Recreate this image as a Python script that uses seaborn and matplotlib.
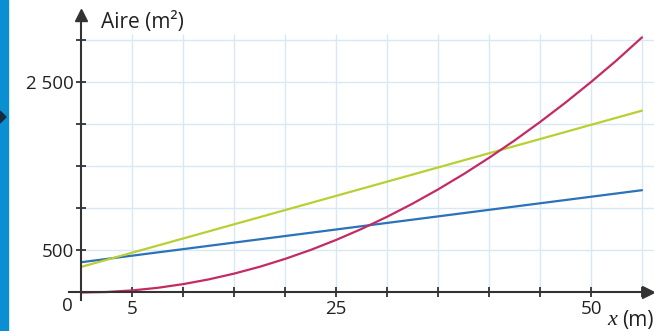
import matplotlib
matplotlib.use("Agg")
import matplotlib.pyplot as plt
import seaborn as sns
import pandas as pd
from matplotlib.patches import Rectangle, Polygon

# --- values ---
x_lin = [0, 55]
blue_vals = [360, 1215]
green_vals = [305, 2160]

x_par = [0, 2.5, 5, 7.5, 10, 12.5, 15, 17.5, 20, 22.5, 25, 27.5, 30,
         32.5, 35, 37.5, 40, 42.5, 45, 47.5, 50, 52.5, 55]
magenta_vals = [0, 6, 25, 56, 100, 156, 225, 306, 400, 506, 625, 756, 900,
                1056, 1225, 1406, 1600, 1806, 2025, 2256, 2500, 2756, 3030]

x_ticks = [5, 10, 15, 20, 25, 30, 35, 40, 45, 50, 55]
x_ticklabels = ["5", "", "", "", "25", "", "", "", "", "50", ""]
y_ticks = [500, 1000, 1500, 2000, 2500, 3000]
y_ticklabels = ["500", "", "", "", "2 500", ""]

BLUE = "#2b72b8"
GREEN = "#b9cf32"
MAGENTA = "#c42a63"
AXIS = "#333333"
GRID = "#d8e9f3"
TXT = "#222222"

sns.set_theme(style="white")
plt.rcParams["font.family"] = ["Open Sans", "DejaVu Sans"]

fig = plt.figure(figsize=(6.54, 3.31), dpi=100)
ax = fig.add_axes([66 / 654, 27 / 331, 588 / 654, 296 / 331])
ax.set_xlim(-1.52, 56.18)
ax.set_ylim(-136.6, 3379)

# grid (drawn by hand so it stops like in the print)
ax.vlines(x_ticks, 0, 3070, color=GRID, lw=1.0, zorder=0)
ax.hlines(y_ticks, 0, 56.18, color=GRID, lw=1.0, zorder=0)

df_lin = pd.DataFrame({"x": x_lin, "blue": blue_vals, "green": green_vals})
df_par = pd.DataFrame({"x": x_par, "y": magenta_vals})
sns.lineplot(data=df_lin, x="x", y="blue", color=BLUE, lw=1.6, ax=ax, zorder=3)
sns.lineplot(data=df_lin, x="x", y="green", color=GREEN, lw=1.6, ax=ax, zorder=3)
sns.lineplot(data=df_par, x="x", y="y", color=MAGENTA, lw=1.6, ax=ax, zorder=4)
ax.set_xlabel("")
ax.set_ylabel("")

# axes through the origin
for s in ["top", "right"]:
    ax.spines[s].set_visible(False)
ax.spines["left"].set_position(("data", 0))
ax.spines["bottom"].set_position(("data", 0))
ax.spines["left"].set_bounds(-90, 3290)
ax.spines["bottom"].set_bounds(-1.2, 55.6)
for s in ["left", "bottom"]:
    ax.spines[s].set_color(AXIS)
    ax.spines[s].set_linewidth(1.5)
    ax.spines[s].set_zorder(5)
ax.plot([0], [3290], marker="^", ms=8, color=AXIS, clip_on=False, zorder=6)
ax.plot([55.6], [0], marker=">", ms=8, color=AXIS, clip_on=False, zorder=6)

ax.set_xticks(x_ticks, x_ticklabels)
ax.set_yticks(y_ticks, y_ticklabels)
ax.tick_params(axis="both", direction="inout", length=7.5, width=1.3,
               color=AXIS, labelsize=13.5, labelcolor=TXT, pad=2,
               bottom=True, left=True)

ax.text(-0.85, -50, "0", ha="right", va="top", fontsize=13.5, color=TXT)
ax.text(1.9, 3210, "Aire (m²)", ha="left", va="center", fontsize=15,
        color=TXT)
# axis name in the bottom right corner
ax.text(51.6, -338, "x", ha="left", va="center", fontsize=16, style="italic",
        family="Liberation Serif", color=TXT, clip_on=False)
ax.text(53.1, -338, "(m)", ha="left", va="center", fontsize=15,
        color=TXT, clip_on=False)

# page decoration on the left edge
fig.patches.append(Rectangle((0, 0), 8 / 654, 1, transform=fig.transFigure,
                             color="#0b8fd3", zorder=0))
fig.patches.append(Polygon([(0, 1 - 111 / 331), (6 / 654, 1 - 117 / 331),
                            (0, 1 - 123 / 331)], closed=True,
                           transform=fig.transFigure, color="#1a2a3a"))

fig.savefig("out.png", dpi=100)
